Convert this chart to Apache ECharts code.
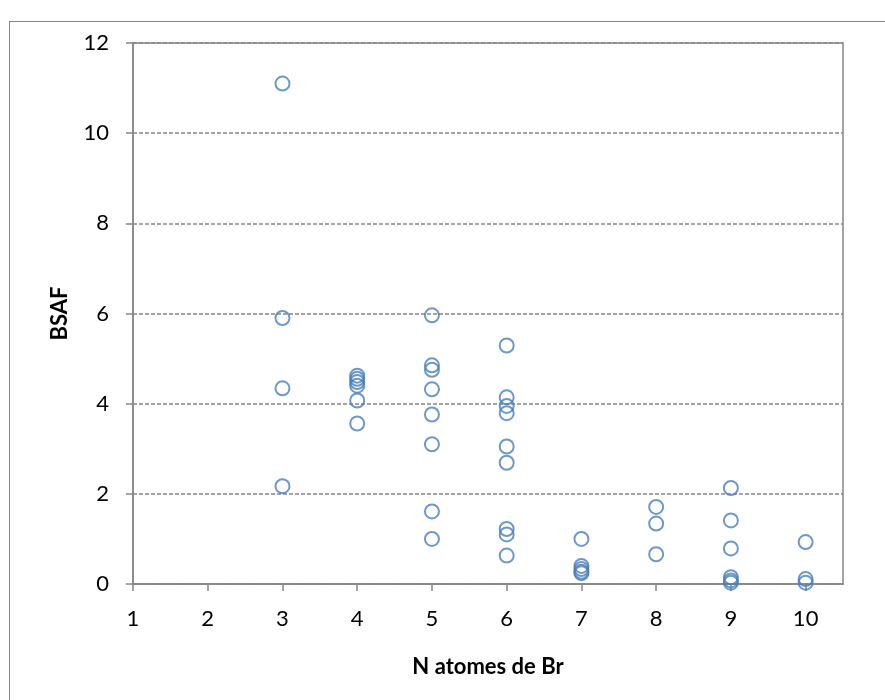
<!DOCTYPE html>
<html>
<head>
<meta charset="utf-8">
<script src="https://cdn.jsdelivr.net/npm/echarts@6/dist/echarts.min.js"></script>
<style>
html,body{margin:0;padding:0;background:#fff;}
#frame{position:absolute;left:9px;top:21px;width:900px;height:700px;border:1.5px solid #868686;box-sizing:border-box;}
#c{position:absolute;left:0;top:0;width:885px;height:700px;}
</style>
</head>
<body>
<div id="frame"></div>
<div id="c"></div>
<script>
const xTitle = "N atomes de Br";
const yTitle = "BSAF";
const xTicks = [1,2,3,4,5,6,7,8,9,10];
const yTicks = [0,2,4,6,8,10,12];
const nBr = [3,3,3,3, 4,4,4,4,4,4, 5,5,5,5,5,5,5,5, 6,6,6,6,6,6,6,6,6, 7,7,7,7,7, 8,8,8, 9,9,9,9,9,9, 10,10,10];
const bsaf = [11.1,5.9,4.34,2.17, 4.62,4.55,4.48,4.40,4.07,3.56, 5.96,4.85,4.75,4.32,3.76,3.10,1.61,1.0, 5.29,4.14,3.95,3.79,3.05,2.69,1.22,1.10,0.63, 1.0,0.40,0.33,0.27,0.24, 1.71,1.34,0.66, 2.13,1.41,0.79,0.15,0.08,0.03, 0.93,0.11,0.03];

const pts = nBr.map((x,i)=>[x,bsaf[i]]);
const font = "Lato, 'Open Sans', 'Liberation Sans', sans-serif";
const chart = echarts.init(document.getElementById('c'));
chart.setOption({
  animation:false,
  backgroundColor:'transparent',
  grid:{left:133,top:43,right:42,bottom:116,show:true,borderColor:'#868686',borderWidth:1.5,backgroundColor:'transparent'},
  xAxis:{
    type:'value',min:xTicks[0],max:10.5,interval:1,
    name:xTitle,nameLocation:'middle',nameGap:72,
    nameTextStyle:{fontFamily:font,fontSize:22,fontWeight:'bold',color:'#000'},
    axisLine:{show:true,onZero:false,lineStyle:{color:'#868686',width:1.5}},
    axisTick:{show:true,inside:false,length:7,lineStyle:{color:'#868686',width:1.5}},
    axisLabel:{fontFamily:font,fontSize:22,color:'#000',margin:24,showMaxLabel:false,
      formatter:v=>xTicks.includes(v)?String(v):''},
    splitLine:{show:false}
  },
  yAxis:{
    type:'value',min:yTicks[0],max:yTicks[yTicks.length-1],interval:2,
    name:yTitle,nameLocation:'middle',nameGap:62,nameRotate:90,
    nameTextStyle:{fontFamily:font,fontSize:22,fontWeight:'bold',color:'#000'},
    axisLine:{show:true,lineStyle:{color:'#868686',width:1.5}},
    axisTick:{show:true,inside:false,length:7,lineStyle:{color:'#868686',width:1.5}},
    axisLabel:{fontFamily:font,fontSize:22,color:'#000',margin:24},
    splitLine:{show:true,lineStyle:{color:'#868686',type:[4,2],width:1.5}}
  },
  series:[{
    type:'scatter',data:pts,symbol:'circle',symbolSize:14,
    itemStyle:{color:'rgba(255,255,255,0)',borderColor:'#4a7ebb',borderWidth:2}
  }]
});
</script>
</body>
</html>
